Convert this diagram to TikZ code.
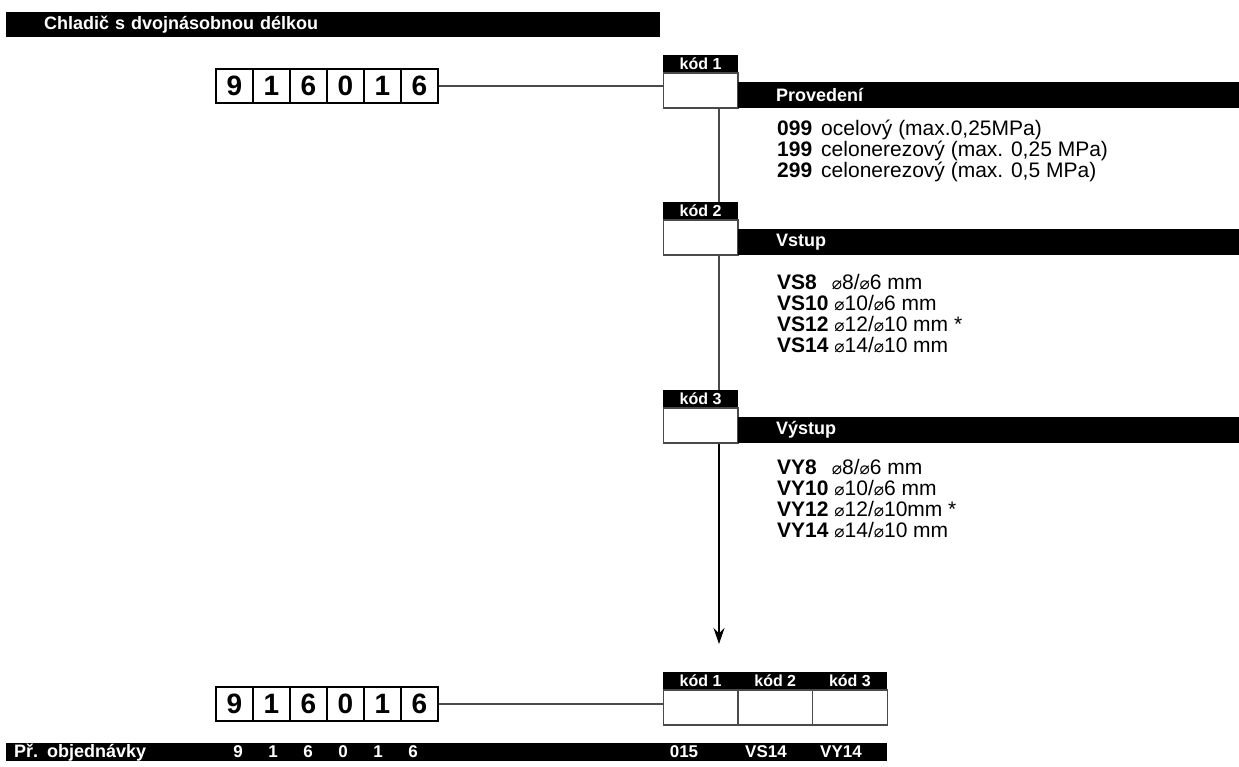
\documentclass[tikz,border=0pt]{standalone}
\usepackage{fontspec}
\setmainfont{Liberation Sans}
\newfontfamily\diafont{DejaVu Sans}
\usetikzlibrary{arrows.meta,positioning}
\definecolor{framegray}{HTML}{4A4A4A}
\newcommand\diasign{{\diafont\fontsize{17}{17}\selectfont ⌀}}
\tikzset{
  bar/.style={fill=black,text=white,font=\fontsize{18}{18}\selectfont\bfseries,
    anchor=north west,inner ysep=0pt,align=left},
  tag/.style={fill=black,text=white,font=\fontsize{16}{16}\selectfont\bfseries,
    minimum width=74.7pt,minimum height=17pt,inner sep=0pt,anchor=north west},
  slot/.style={draw=framegray,line width=1.4pt,minimum width=74.7pt,
    minimum height=35pt,inner sep=0pt},
  digit/.style={draw=black,line width=1.2pt,minimum width=37pt,minimum height=34pt,
    inner sep=0pt,font=\fontsize{28}{28}\selectfont\bfseries},
  option/.style={anchor=west,inner sep=0pt,font=\fontsize{21}{21}\selectfont},
  foot/.style={text=white,inner sep=0pt,font=\fontsize{17}{17}\selectfont\bfseries},
  link/.style={draw=framegray,line width=1.2pt}
}

\begin{document}
\begin{tikzpicture}[x=1pt,y=-1pt]
  \useasboundingbox (0,0) rectangle (1239,766);
  \node[bar,minimum height=25pt,inner xsep=38pt,text width=578pt] (title) at (6,12)
    {Chladič s dvojnásobnou délkou};

  % upper row of digits
  \foreach \d [count=\i] in {9,1,6,0,1,6}
    \node[digit] (tdig\i) at ({234.5+37*(\i-1)},86) {\d};

  % the three code sections
  \foreach \n/\y/\head in {1/55/Provedení,2/202/Vstup,3/390/Výstup} {
    \node[tag] (tag\n) at (663,\y) {kód \n};
    \node[slot,below=0pt of tag\n] (slot\n) {};
    \node[bar,minimum height=26pt,inner xsep=38pt,text width=425pt]
      (head\n) at (738,{\y+27}) {\head};
  }
  \draw[link] (tdig6.east) -- (tdig6.east -| slot1.west);

  \foreach \txt [count=\k] in {{\textbf{099}\hspace{9pt}ocelový (max.0,25MPa)},
      {\textbf{199}\hspace{9pt}celonerezový (max. 0,25 MPa)},
      {\textbf{299}\hspace{9pt}celonerezový (max. 0,5 MPa)}}
    \node[option] (opta\k) at (777,{130+21*(\k-1)}) {\txt};
  \foreach \txt [count=\k] in {{\textbf{VS8}\hspace{15pt}\diasign8/\diasign6 mm},
      {\textbf{VS10} \diasign10/\diasign6 mm},
      {\textbf{VS12} \diasign12/\diasign10 mm *},
      {\textbf{VS14} \diasign14/\diasign10 mm}}
    \node[option] (optb\k) at (777,{282+21*(\k-1)}) {\txt};
  \foreach \txt [count=\k] in {{\textbf{VY8}\hspace{15pt}\diasign8/\diasign6 mm},
      {\textbf{VY10} \diasign10/\diasign6 mm},
      {\textbf{VY12} \diasign12/\diasign10mm *},
      {\textbf{VY14} \diasign14/\diasign10 mm}}
    \node[option] (optc\k) at (777,{467+21*(\k-1)}) {\txt};

  % spine with arrow
  \coordinate (spine) at (719,0);
  \coordinate (tip) at (719,644);
  \draw[link] (slot1.south -| spine) -- (tag2.north -| spine);
  \draw[link] (slot2.south -| spine) -- (tag3.north -| spine);
  \draw[link,draw=black,-{Stealth[length=16pt,width=11pt]}]
    (slot3.south -| spine) -- (tip);

  % lower row
  \foreach \d [count=\i] in {9,1,6,0,1,6}
    \node[digit] (bdig\i) at ({234.5+37*(\i-1)},704) {\d};
  \foreach \n in {1,2,3} {
    \node[tag] (btag\n) at ({663+74.7*(\n-1)},672) {kód \n};
    \node[slot,below=0pt of btag\n] (bslot\n) {};
  }
  \draw[link] (bdig6.east) -- (bdig6.east -| bslot1.west);

  % order example
  \node[bar,minimum height=18pt,inner xsep=8pt,text width=865pt] (example) at (6,743)
    {Př. objednávky};
  \foreach \d [count=\i] in {9,1,6,0,1,6}
    \node[foot] (fdig\i) at ({238+35*(\i-1)},752) {\d};
  \node[foot] (fcode1) at (684,752) {015};
  \node[foot] (fcode2) at (766,752) {VS14};
  \node[foot] (fcode3) at (841,752) {VY14};
\end{tikzpicture}
\end{document}
